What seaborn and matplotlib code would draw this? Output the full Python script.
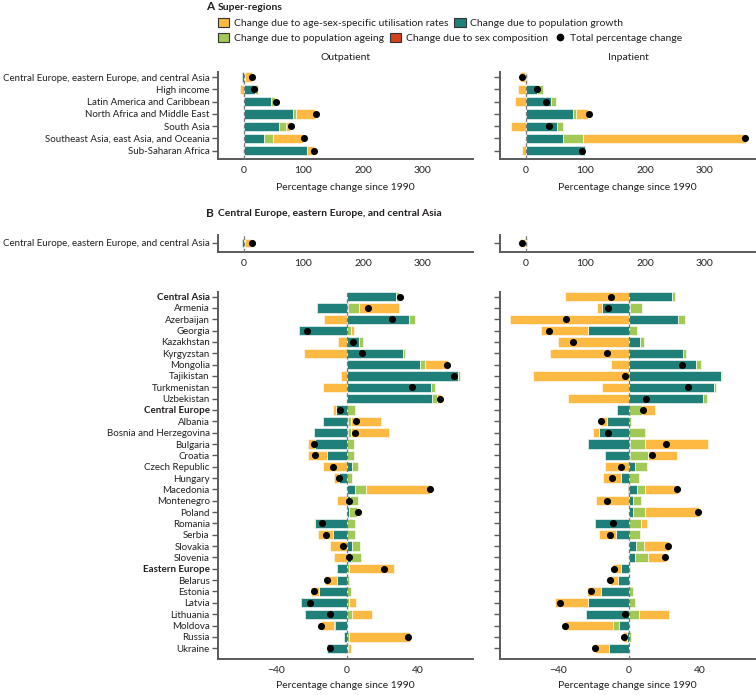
import numpy as np
import matplotlib
matplotlib.use('Agg')
import matplotlib.pyplot as plt
import seaborn as sns
from matplotlib.patches import Patch
from matplotlib.lines import Line2D

sns.set_theme(style='white')
plt.rcParams['font.family'] = ['Lato', 'DejaVu Sans']

# ---- data: super-regions (panel A) ----
super_regions = ['Central Europe, eastern Europe, and central Asia', 'High income',
                 'Latin America and Caribbean', 'North Africa and Middle East', 'South Asia',
                 'Southeast Asia, east Asia, and Oceania', 'Sub-Saharan Africa']
sr_out_growth = [-2.8, 19.0, 45.8, 82.0, 59.8, 34.6, 105.6]
sr_out_sex = [0, 0, 0, 0, 0, 0, 0]
sr_out_ageing = [3.0, 4.5, 6.7, 5.0, 10.6, 15.1, -1.0]
sr_out_util = [10.5, -6.1, 1.0, 32.4, 7.3, 50.3, 12.3]
sr_out_total = [14.0, 18.0, 54.0, 120.5, 78.5, 101.0, 118.4]

sr_in_growth = [-1.0, 18.4, 41.9, 79.9, 52.0, 62.6, 99.4]
sr_in_sex = [0, 0, 0, 0, 0, 0, 0]
sr_in_ageing = [1.5, 11.2, 8.4, 3.9, 10.6, 33.5, 0]
sr_in_util = [-8.0, -12.3, -17.9, 21.2, -24.6, 272.6, -6.1]
sr_in_total = [-6.7, 18.4, 33.5, 105.6, 39.7, 367.6, 93.9]

# ---- data: countries (panel B) ----
countries = ['Central Asia', 'Armenia', 'Azerbaijan', 'Georgia', 'Kazakhstan', 'Kyrgyzstan',
             'Mongolia', 'Tajikistan', 'Turkmenistan', 'Uzbekistan', 'Central Europe', 'Albania',
             'Bosnia and Herzegovina', 'Bulgaria', 'Croatia', 'Czech Republic', 'Hungary',
             'Macedonia', 'Montenegro', 'Poland', 'Romania', 'Serbia', 'Slovakia', 'Slovenia',
             'Eastern Europe', 'Belarus', 'Estonia', 'Latvia', 'Lithuania', 'Moldova', 'Russia',
             'Ukraine']
group_rows = ['Central Asia', 'Central Europe', 'Eastern Europe']

c_out_growth = [28.0, -17.0, 35.1, -26.9, 7.0, 32.1, 41.3, 63.1, 47.7, 48.3, -6.2, -13.3,
                -18.6, -18.0, -11.5, 2.8, -4.3, 4.7, 1.7, 1.3, -17.9, -7.7, 3.2, 2.6,
                -5.3, -5.8, -15.8, -25.9, -23.5, -6.8, -1.5, -11.4]
c_out_sex = [0, 0.4, 0, 0, 0, 0, 0, 0, 0, 0, 0, 0.4, 0.4, 0, 0, 0, 0, 0, 0, 0, 0, 0, 0, 0,
             0, 0, 0, 0, 0, -0.3, 0, 0]
c_out_ageing = [1.5, 6.5, 3.6, 2.1, 1.9, 0.8, 2.8, 0.9, 2.4, 2.6, 4.5, 2.0, 2.0, 4.1, 4.3,
                3.6, 3.0, 6.0, 4.7, 4.5, 4.5, 4.5, 4.5, 5.2, 1.1, 1.0, 2.1, 1.3, 3.2, 0,
                1.3, 0.8]
c_out_util = [0.7, 22.8, -12.8, 2.0, -4.9, -24.2, 13.3, -3.4, -13.3, 2.4, -1.5, 17.0, 21.7,
              -4.0, -10.5, -13.7, -2.8, 36.6, -5.3, 0.6, -0.7, -8.5, -9.6, -7.1, 25.4, -6.6,
              -4.7, 3.8, 10.9, -7.8, 34.6, 1.8]
c_out_total = [30.2, 12.1, 25.7, -22.7, 3.6, 8.8, 57.0, 60.8, 36.8, 52.8, -3.6, 5.0, 4.7,
               -18.6, -17.8, -7.7, -4.3, 47.3, 1.0, 6.4, -14.3, -11.8, -2.1, 1.0, 21.0,
               -11.5, -18.6, -20.8, -9.6, -14.8, 34.5, -9.6]

c_in_growth = [24.4, -15.4, 27.6, -23.4, 6.1, 30.5, 38.3, 52.0, 48.2, 42.3, -6.5, -12.2,
               -17.0, -22.9, -13.3, 3.4, -4.6, 4.6, 2.3, 2.1, -18.9, -7.4, 4.0, 3.6, -4.6,
               -6.1, -15.6, -23.2, -24.4, -5.7, -1.3, -11.0]
c_in_sex = [0, 0.4, 0, 0, 0, 0, 0, 0, 0, 0, 0, 0, 0, 0.4, 0.4, 0, 0, -0.3, 0, 0, 0, 0, 0, 0,
            0, 0, 0, 0, 0, 0, 0, 0]
c_in_ageing = [1.9, 6.9, 4.4, 4.4, 2.7, 2.1, 2.7, 0.6, 1.1, 2.1, 7.4, 1.0, 9.1, 8.6, 10.5,
               6.7, 5.5, 4.6, 4.8, 6.9, 6.9, 6.5, 4.8, 7.1, 0.8, 0.3, 2.5, 3.4, 5.5, -3.4,
               1.0, 0]
c_in_util = [-36.0, -2.9, -67.4, -26.1, -40.0, -44.6, -10.3, -54.3, -15.4, -34.5, 7.2, -4.4,
             -3.4, 36.0, 16.2, -13.7, -10.3, 18.6, -18.7, 31.0, 3.4, -9.7, 13.9, 10.3, -4.4,
             -4.6, -8.2, -18.9, 17.2, -27.1, -1.9, -8.4]
c_in_total = [-9.9, -11.6, -35.6, -45.5, -31.4, -12.2, 30.3, -1.9, 33.7, 9.5, 7.8, -16.0,
              -11.6, 21.1, 13.1, -4.2, -9.7, 27.2, -12.2, 39.2, -9.0, -10.9, 22.1, 20.4,
              -8.4, -10.9, -21.7, -39.2, -2.3, -36.2, -2.9, -19.2]

COL_UTIL = '#fdb942'
COL_GROWTH = '#1f807a'
COL_AGE = '#a2c855'
COL_SEX = '#d2401c'
TXT = '#231f20'
GREY = '#5a5a5a'
FS = 7.2
FS_Y = 7.0

W, H = 756, 695
fig = plt.figure(figsize=(W / 100, H / 100), dpi=100)


def px_axes(x0, y0, x1, y1):
    return fig.add_axes([x0 / W, 1 - y1 / H, (x1 - x0) / W, (y1 - y0) / H])


def draw(ax, growth, sex, ageing, util, total, h):
    ypos = np.arange(len(total))
    pos = np.zeros(len(ypos))
    neg = np.zeros(len(ypos))
    for vals, col in [(growth, COL_GROWTH), (sex, COL_SEX), (ageing, COL_AGE), (util, COL_UTIL)]:
        vals = np.asarray(vals, float)
        left = np.where(vals >= 0, pos, neg)
        ax.barh(ypos, vals, left=left, height=h, color=col,
                edgecolor=(1, 1, 1, 0.6), linewidth=0.7, zorder=2)
        pos = pos + np.clip(vals, 0, None)
        neg = neg + np.clip(vals, None, 0)
    ax.axvline(0, color='#777777', lw=0.9, ls=(0, (3, 2)), zorder=3)
    sns.scatterplot(x=np.asarray(total, float), y=ypos, color='black', s=26, linewidth=0,
                    ax=ax, zorder=4, legend=False)


def style(ax, xlim, ylim, xticks, labels, show_labels=True, groups=()):
    ax.set_yticks(np.arange(len(labels)))
    ax.set_yticklabels(labels, fontsize=FS_Y, color=TXT)
    for t in ax.get_yticklabels():
        if t.get_text() in groups:
            t.set_fontweight('bold')
    ax.set_xticks(xticks)
    ax.set_xticklabels([f'{t:g}'.replace('-', '\u2212') for t in xticks], fontsize=FS + 0.3, color=TXT)
    ax.set_xlim(xlim)
    ax.set_ylim(ylim)
    for s in ['top', 'right']:
        ax.spines[s].set_visible(False)
    for s in ['left', 'bottom']:
        ax.spines[s].set_color(GREY)
        ax.spines[s].set_linewidth(1.4)
    ax.tick_params(axis='y', length=4.5, width=1, color=GREY, left=True, pad=1.5,
                   labelleft=show_labels)
    ax.tick_params(axis='x', length=0, pad=5)
    ax.set_xlabel('')
    ax.set_ylabel('')
    ax.grid(False)


# ---- panel A ----
n_sr = len(super_regions)
top_ylim = (n_sr - 1 + 0.68, -0.42)
ax1 = px_axes(218, 72, 473, 159)
draw(ax1, sr_out_growth, sr_out_sex, sr_out_ageing, sr_out_util, sr_out_total, 0.76)
style(ax1, (-43, 384), top_ylim, [0, 100, 200, 300], super_regions)

ax2 = px_axes(500, 72, 755, 159)
draw(ax2, sr_in_growth, sr_in_sex, sr_in_ageing, sr_in_util, sr_in_total, 0.76)
style(ax2, (-43, 384), top_ylim, [0, 100, 200, 300], super_regions, show_labels=False)

for ax in (ax1, ax2):
    ax.set_xlabel('Percentage change since 1990', fontsize=FS + 0.3, color=TXT, labelpad=6)

# ---- panel B, super-region row ----
ax3 = px_axes(218, 235, 473, 252)
draw(ax3, sr_out_growth[:1], sr_out_sex[:1], sr_out_ageing[:1], sr_out_util[:1], sr_out_total[:1], 0.8)
style(ax3, (-43, 384), (0.9, -0.8), [0, 100, 200, 300], super_regions[:1])

ax4 = px_axes(500, 235, 755, 252)
draw(ax4, sr_in_growth[:1], sr_in_sex[:1], sr_in_ageing[:1], sr_in_util[:1], sr_in_total[:1], 0.8)
style(ax4, (-43, 384), (0.9, -0.8), [0, 100, 200, 300], super_regions[:1], show_labels=False)

# ---- panel B, countries ----
n_c = len(countries)
low_ylim = (n_c - 1 + 0.95, -0.4)
ax5 = px_axes(218, 292, 473, 659)
draw(ax5, c_out_growth, c_out_sex, c_out_ageing, c_out_util, c_out_total, 0.82)
style(ax5, (-73, 71.5), low_ylim, [-40, 0, 40], countries, groups=group_rows)

ax6 = px_axes(500, 292, 755, 659)
draw(ax6, c_in_growth, c_in_sex, c_in_ageing, c_in_util, c_in_total, 0.82)
style(ax6, (-73, 71.5), low_ylim, [-40, 0, 40], countries, show_labels=False)

for ax in (ax5, ax6):
    ax.set_xlabel('Percentage change since 1990', fontsize=FS + 0.3, color=TXT, labelpad=4)

# ---- titles and legend ----
fig.text(206 / W, 1 - 7 / H, 'A', fontsize=8.5, fontweight='bold', color=TXT, va='center')
fig.text(218 / W, 1 - 7 / H, 'Super-regions', fontsize=FS + 0.3, fontweight='bold', color=TXT, va='center')
fig.text(206 / W, 1 - 214 / H, 'B', fontsize=8.5, fontweight='bold', color=TXT, va='center')
fig.text(218 / W, 1 - 214 / H, 'Central Europe, eastern Europe, and central Asia', fontsize=FS + 0.3,
         fontweight='bold', color=TXT, va='center')
fig.text(345.5 / W, 1 - 57 / H, 'Outpatient', fontsize=FS + 0.3, color=TXT, ha='center', va='center')
fig.text(628 / W, 1 - 57 / H, 'Inpatient', fontsize=FS + 0.3, color=TXT, ha='center', va='center')


def patch(c):
    return Patch(facecolor=c, edgecolor='#333333', linewidth=0.8)


row1 = [patch(COL_UTIL), patch(COL_GROWTH)]
row1_lab = ['Change due to age-sex-specific utilisation rates', 'Change due to population growth']
row2 = [patch(COL_AGE), patch(COL_SEX),
        Line2D([], [], marker='o', color='black', linestyle='none', markersize=4.5)]
row2_lab = ['Change due to population ageing', 'Change due to sex composition', 'Total percentage change']
leg_kw = dict(frameon=False, loc='center left', fontsize=FS + 0.3, handlelength=1.1, handleheight=0.9,
              handletextpad=0.4, columnspacing=0.6, borderpad=0, borderaxespad=0, labelcolor=TXT)
fig.legend(row1, row1_lab, ncol=2, bbox_to_anchor=(218 / W, 1 - 23 / H), **leg_kw)
fig.legend(row2, row2_lab, ncol=3, bbox_to_anchor=(218 / W, 1 - 38 / H), **leg_kw)

fig.savefig('out.png', dpi=100)
